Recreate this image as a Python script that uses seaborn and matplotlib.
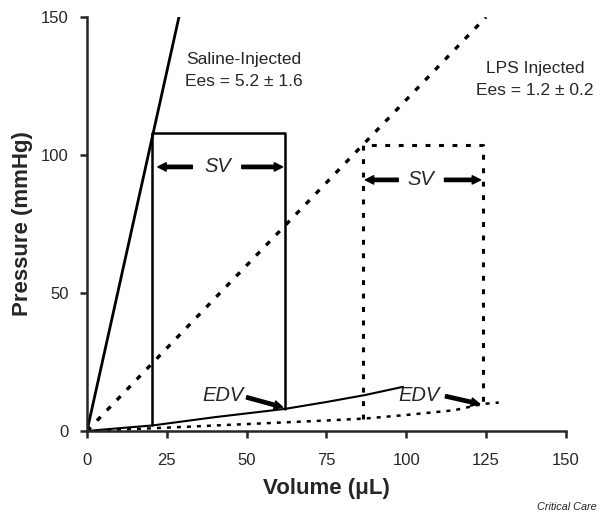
import matplotlib
matplotlib.use('Agg')
import numpy as np
import pandas as pd
import matplotlib.pyplot as plt
import seaborn as sns

# Pendientes ESPVR (Ees) y rango de volumen
ees_saline = 5.2
ees_lps = 1.2
espvr_saline_vol = [0, 28.8]
espvr_saline_pres = [0, 150]
espvr_lps_vol = [0, 125]
espvr_lps_pres = [0, 150]

# Curvas EDPVR
edpvr_saline_vol = [0, 10, 20.5, 40, 62, 75, 87, 99]
edpvr_saline_pres = [0, 1.0, 2.0, 5.0, 8.0, 10.5, 13.0, 16.0]
edpvr_lps_vol = [0, 25, 50, 75, 87, 100, 115, 124, 129]
edpvr_lps_pres = [0, 1.2, 2.5, 3.8, 4.5, 5.8, 7.5, 9.8, 10.3]

# Lazos presion-volumen (rectangulos)
loop_saline_vol = [20.5, 20.5, 62, 62]
loop_saline_pres = [2.0, 108, 108, 8.0]
loop_lps_vol = [86.5, 86.5, 124, 124]
loop_lps_pres = [4.5, 103.6, 103.6, 9.8]

sns.set_style('ticks')
plt.rcParams['font.family'] = ['Liberation Sans', 'DejaVu Sans']

fig = plt.figure(figsize=(6, 5.18), dpi=100)
ax = fig.add_axes([0.145, 0.168, 0.798, 0.799])

def linea(x, y, **kw):
    df = pd.DataFrame({'x': x, 'y': y})
    sns.lineplot(data=df, x='x', y='y', sort=False, estimator=None, ax=ax,
                 color='black', **kw)

# ESPVR
linea(espvr_saline_vol, espvr_saline_pres, linewidth=2)
linea(espvr_lps_vol, espvr_lps_pres, linewidth=2.4, dashes=(1.6, 2.7))

# EDPVR
linea(edpvr_saline_vol, edpvr_saline_pres, linewidth=1.5)
linea(edpvr_lps_vol, edpvr_lps_pres, linewidth=1.8, dashes=(1.6, 2.4))

# Lazos
linea(loop_saline_vol, loop_saline_pres, linewidth=1.8)
linea(loop_lps_vol, loop_lps_pres, linewidth=2.2, dashes=(1.6, 2.8))

# Flechas
flecha = dict(arrowstyle='simple,head_width=0.6,head_length=0.6,tail_width=0.24',
              color='black', shrinkA=0, shrinkB=0)

def arrow(x0, y0, x1, y1):
    ax.annotate('', xy=(x1, y1), xytext=(x0, y0), arrowprops=flecha)

arrow(33, 95.7, 22.2, 95.7)
arrow(48.5, 95.7, 61.3, 95.7)
ax.text(41, 95.7, 'SV', style='italic', fontsize=14.5, ha='center', va='center')

arrow(97.5, 91, 87.2, 91)
arrow(112, 91, 123.3, 91)
ax.text(104.5, 91, 'SV', style='italic', fontsize=14.5, ha='center', va='center')

ax.text(42.5, 12.8, 'EDV', style='italic', fontsize=14.5, ha='center', va='center')
arrow(50, 12.2, 61.3, 8.6)
ax.text(104, 12.8, 'EDV', style='italic', fontsize=14.5, ha='center', va='center')
arrow(112.3, 12.6, 123, 9.8)

ax.text(49.2, 134.5, 'Saline-Injected', fontsize=12.5, ha='center', va='center')
ax.text(49.2, 126.8, 'Ees = 5.2 \u00b1 1.6', fontsize=12.5, ha='center', va='center')
ax.text(140.3, 131.5, 'LPS Injected', fontsize=12.5, ha='center', va='center')
ax.text(140.3, 123.3, 'Ees = 1.2 \u00b1 0.2', fontsize=12.5, ha='center', va='center')

ax.set_xlim(0, 150)
ax.set_ylim(0, 150)
ax.set_xticks([0, 25, 50, 75, 100, 125, 150])
ax.set_yticks([0, 50, 100, 150])
ax.tick_params(labelsize=12, width=1.8, length=5, direction='out')
ax.tick_params(axis='x', pad=11)
ax.tick_params(axis='y', pad=8)
ax.set_xlabel('Volume (\u03bcL)', fontsize=16, fontweight='bold', labelpad=7)
ax.set_ylabel('Pressure (mmHg)', fontsize=16, fontweight='bold', labelpad=6)
for s in ['top', 'right']:
    ax.spines[s].set_visible(False)
for s in ['left', 'bottom']:
    ax.spines[s].set_linewidth(1.8)
ax.margins(0)

fig.text(0.995, 0.012, 'Critical Care', style='italic', fontsize=7.8, ha='right', va='bottom')

fig.savefig('out.png', dpi=100, facecolor='white')
